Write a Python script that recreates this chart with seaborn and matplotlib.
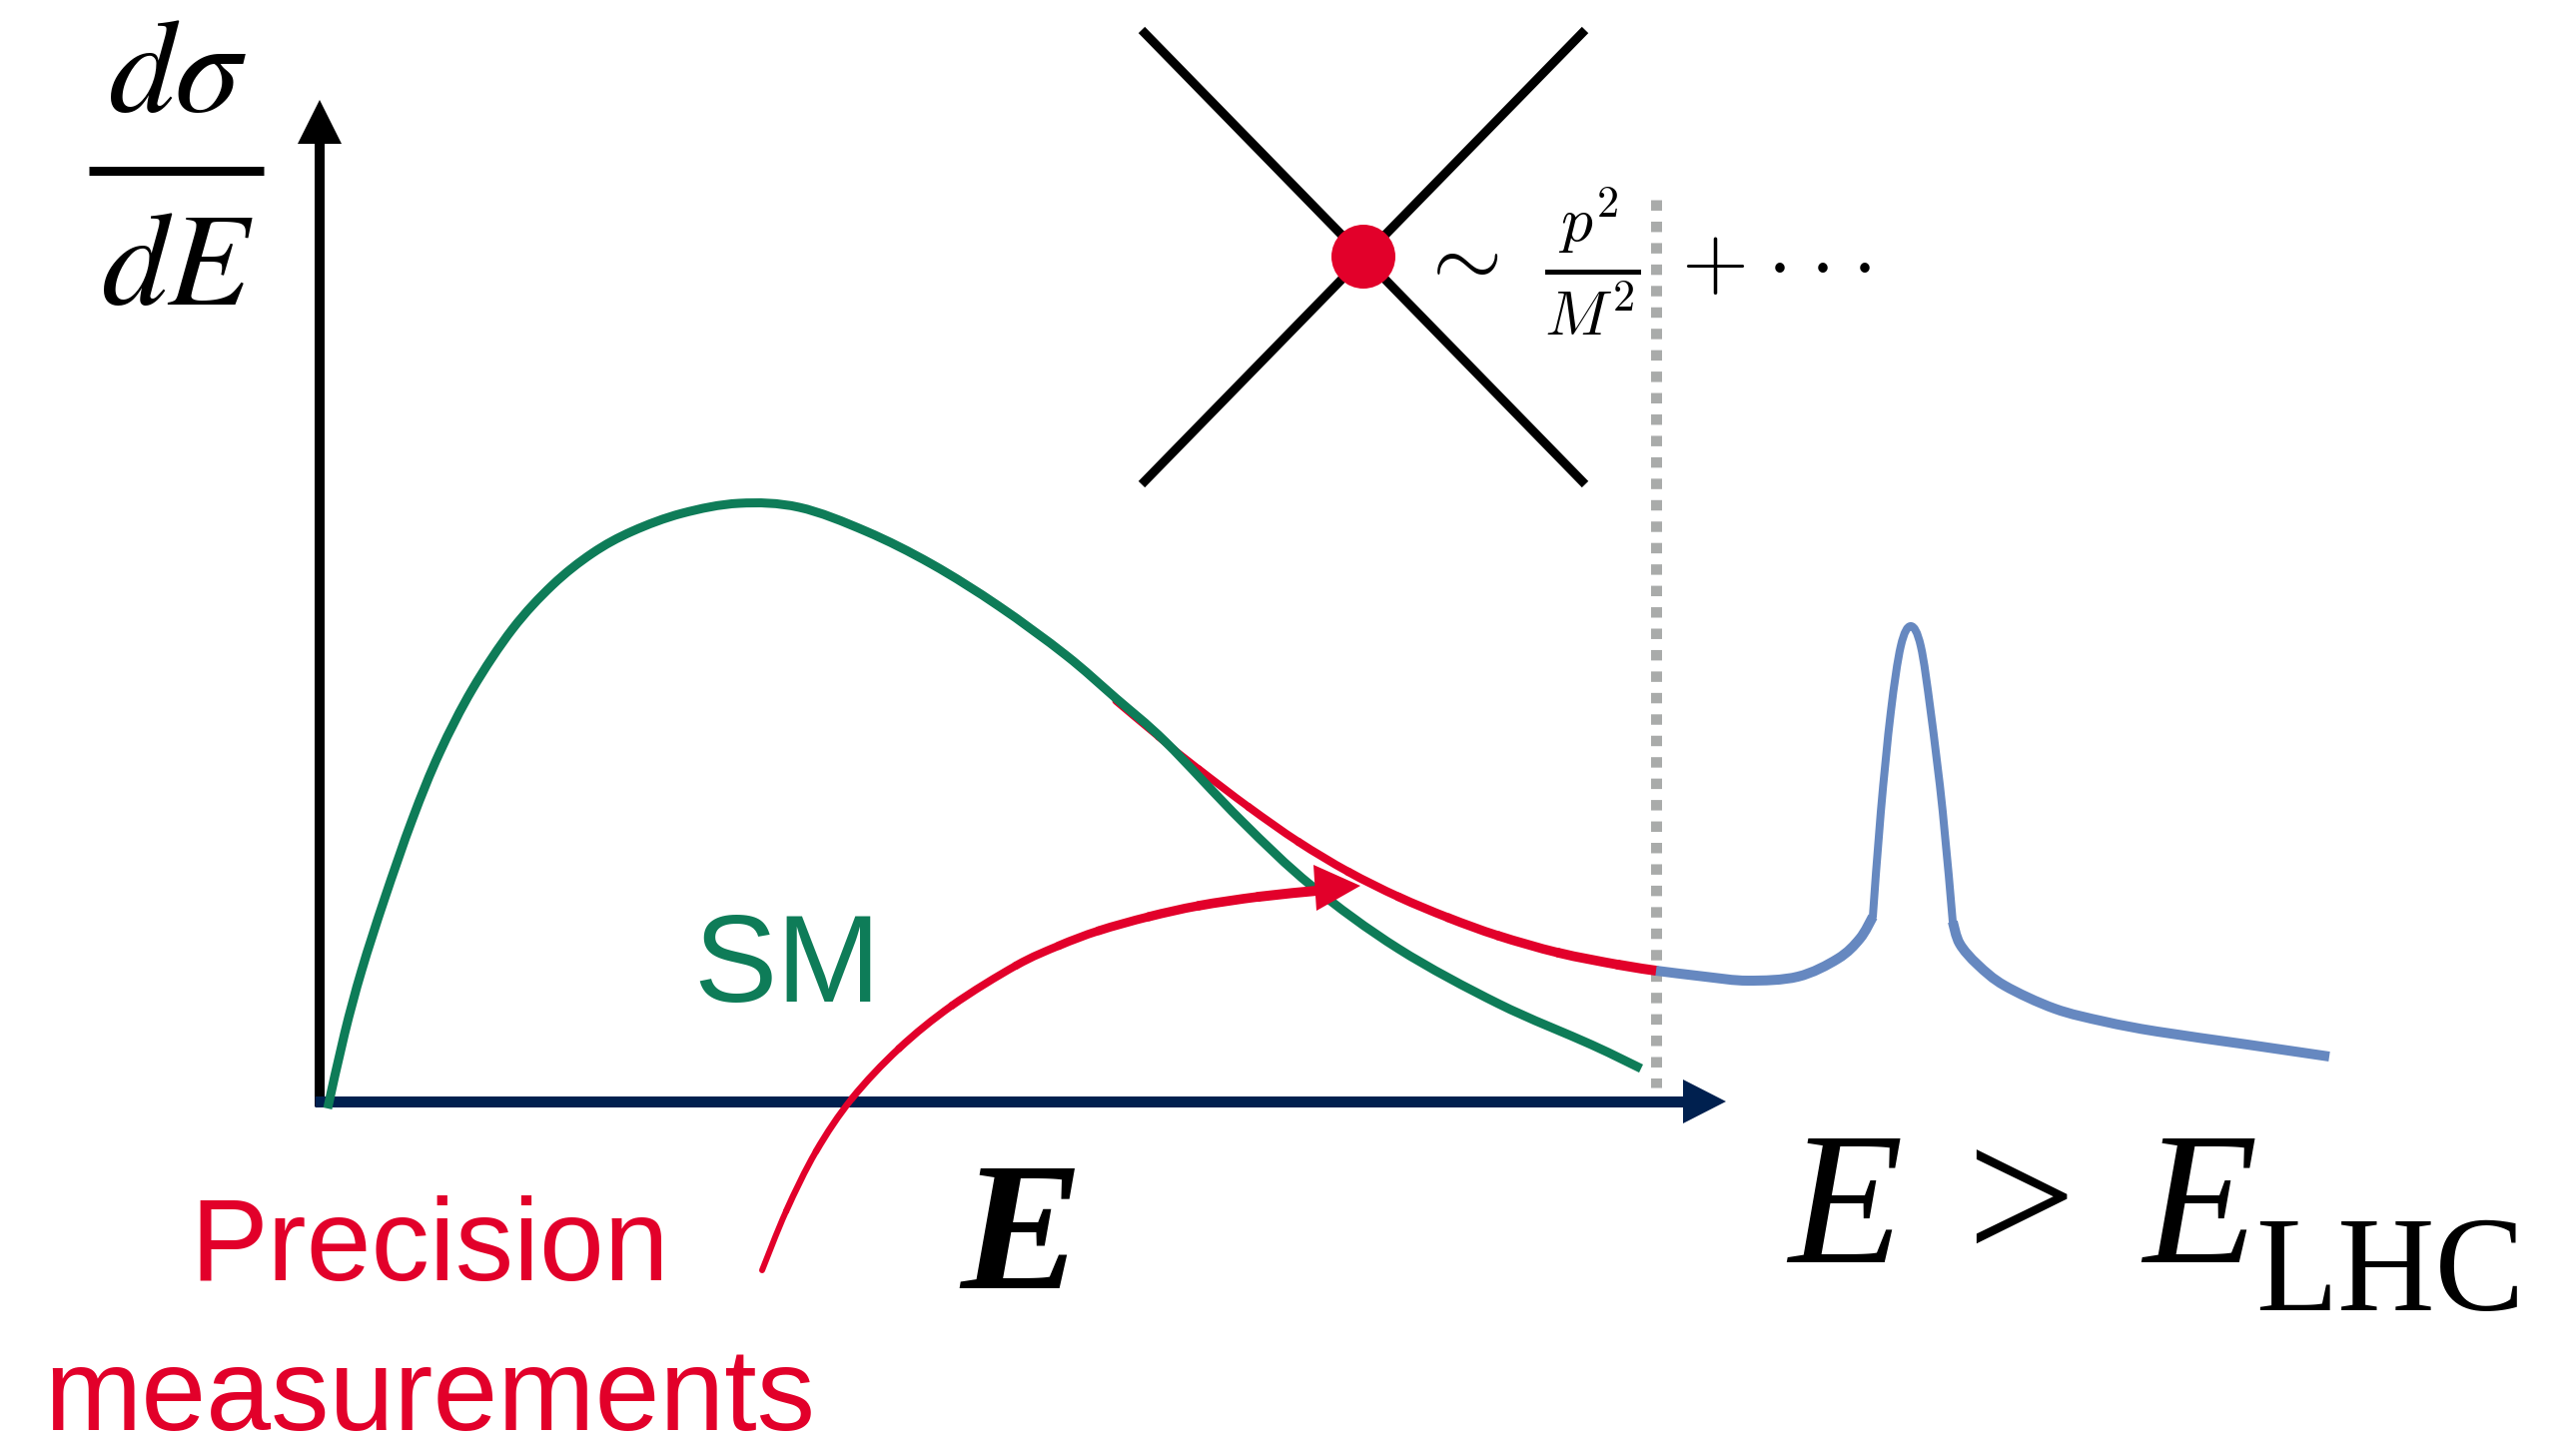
import numpy as np
import pandas as pd
import matplotlib
matplotlib.use("Agg")
import matplotlib.pyplot as plt
import seaborn as sns
from matplotlib.path import Path
from matplotlib.patches import Circle, Polygon, PathPatch

# ---------------- data (picture pixel coordinates, y downwards) ----------------
sm_x = [328, 345, 362, 385, 413, 440, 473, 513, 553, 593, 633, 683, 740, 800, 867,
        933, 1000, 1067, 1117, 1167, 1243, 1313, 1400, 1500, 1593, 1643]
sm_y = [1110, 1035, 972, 900, 820, 754, 690, 630, 586, 554, 532, 514, 504, 508, 532,
        565, 607, 656, 699, 743, 822, 887, 950, 1005, 1046, 1070]

bsm_x = [1117, 1160, 1200, 1250, 1300, 1350, 1400, 1450, 1500, 1560, 1620, 1658]
bsm_y = [702, 738, 770, 808, 843, 873, 898, 919, 937, 954, 966, 972]

res_left_x = [1658, 1707, 1750, 1800, 1840, 1862, 1875]
res_left_y = [972, 978, 982, 978, 960, 940, 918]
res_peak_x = [1875, 1883, 1893, 1903, 1913, 1923, 1933, 1945, 1955]
res_peak_y = [918, 813, 713, 647, 627, 647, 713, 813, 923]
res_right_x = [1955, 1962, 1980, 2007, 2057, 2107, 2160, 2250, 2332]
res_right_y = [923, 945, 966, 987, 1010, 1023, 1033, 1046, 1058]

prec_x = [763, 787, 817, 853, 900, 953, 1017, 1060, 1100, 1150, 1200, 1260, 1318]
prec_y = [1272, 1213, 1153, 1100, 1050, 1007, 967, 947, 932, 918, 907, 898, 892]

vertex_a_x = [1143, 1587]
vertex_a_y = [30, 485]
vertex_b_x = [1143, 1587]
vertex_b_y = [485, 30]

labels = {
    "ylabel_num": r"$d\sigma$",
    "ylabel_den": r"$dE$",
    "sm": "SM",
    "prec1": "Precision",
    "prec2": "measurements",
    "e": "E",
    "op": r"$\sim\ \frac{p^2}{M^2}$",
    "plus": r"$+$",
    "dot": r"$\cdot$",
}

# ---------------- colours ----------------
GREEN = "#0E7C58"
RED = "#E2002A"
BLUE = "#6688C0"
NAVY = "#00204F"
GREY = "#A9ABAA"

W, H = 2579, 1447
sns.set_theme(style="white")
plt.rcParams["font.family"] = ["Liberation Sans", "DejaVu Sans"]

fig = plt.figure(figsize=(W / 100, H / 100), dpi=100)
ax = fig.add_axes([0, 0, 1, 1])
ax.set_xlim(0, W)
ax.set_ylim(H, 0)
ax.axis("off")

PT = 0.72  # points per pixel at dpi 100


def bezier_segments(xs, ys):
    """Smooth curve through the read points (Catmull-Rom as cubic Bezier)."""
    P = np.column_stack([xs, ys]).astype(float)
    n = len(P)
    segs = []
    for i in range(n - 1):
        p0 = P[i - 1] if i > 0 else P[i]
        p1, p2 = P[i], P[i + 1]
        p3 = P[i + 2] if i + 2 < n else P[i + 1]
        segs.append([p1, p1 + (p2 - p0) / 6, p2 - (p3 - p1) / 6, p2])
    return segs


def draw_curve(xs, ys, color, w0, w1=None, z=3, cap="butt"):
    segs = bezier_segments(xs, ys)
    if w1 is None:
        verts = [segs[0][0]]
        codes = [Path.MOVETO]
        for s in segs:
            verts += s[1:]
            codes += [Path.CURVE4] * 3
        ax.add_patch(PathPatch(Path(verts, codes), fill=False, edgecolor=color,
                               lw=w0 * PT, capstyle=cap, joinstyle="round", zorder=z))
    else:
        widths = np.linspace(w0, w1, len(segs))
        for s, w in zip(segs, widths):
            ax.add_patch(PathPatch(Path(s, [Path.MOVETO] + [Path.CURVE4] * 3),
                                   fill=False, edgecolor=color, lw=w * PT,
                                   capstyle="round", joinstyle="round", zorder=z))


# ---------------- axes arrows ----------------
ax.plot([320, 320], [1108, 140], color="black", lw=10 * PT, solid_capstyle="butt")
ax.add_patch(Polygon([[298, 144], [342, 144], [320, 100]], closed=True, color="black", lw=0))
ax.plot([315, 1690], [1103, 1103], color=NAVY, lw=11 * PT, solid_capstyle="butt")
ax.add_patch(Polygon([[1685, 1081], [1685, 1125], [1728, 1103]], closed=True, color=NAVY, lw=0))

# dotted separator
ax.plot([1658, 1658], [200, 1089], color=GREY, lw=11 * PT,
        linestyle=(0, (0.95, 1.0)), dash_capstyle="butt")

# ---------------- curves ----------------
draw_curve(bsm_x, bsm_y, RED, 7, 10, z=2)          # BSM deviation, under the SM curve
draw_curve(sm_x, sm_y, GREEN, 9, z=3)              # SM distribution
draw_curve(res_left_x, res_left_y, BLUE, 10, z=3)  # new-physics resonance
draw_curve(res_peak_x, res_peak_y, BLUE, 8, z=3, cap="round")
draw_curve(res_right_x, res_right_y, BLUE, 10, z=3)

# precision measurement arrow
draw_curve(prec_x, prec_y, RED, 6, 10, z=4)
ax.add_patch(Polygon([[1315, 866], [1318, 912], [1362, 887]], closed=True,
                     color=RED, lw=0, zorder=5))

# ---------------- contact interaction diagram ----------------
for vx, vy in [(vertex_a_x, vertex_a_y), (vertex_b_x, vertex_b_y)]:
    sns.lineplot(data=pd.DataFrame({"x": vx, "y": vy}), x="x", y="y", sort=False,
                 estimator=None, ax=ax, color="black", lw=9 * PT, zorder=3,
                 solid_capstyle="butt")
ax.add_patch(Circle((1365, 257), 32, color=RED, zorder=4, lw=0))
ax.text(1418, 288, labels["op"], fontsize=65, math_fontfamily="cm",
        ha="left", va="baseline", color="black")
ax.text(1715, 288, labels["plus"], fontsize=62, math_fontfamily="cm",
        ha="center", va="baseline", color="black")
for dx in [1778, 1821, 1863]:
    ax.text(dx, 288, labels["dot"], fontsize=62, math_fontfamily="cm",
            ha="center", va="baseline", color="black")

ax.set_xlabel("")
ax.set_ylabel("")
ax.set_xlim(0, W)
ax.set_ylim(H, 0)
ax.axis("off")

# ---------------- labels ----------------
ax.text(178, 112, labels["ylabel_num"], fontsize=96, math_fontfamily="stix",
        ha="center", va="baseline", color="black")
ax.plot([89, 264], [171, 171], color="black", lw=9 * PT, solid_capstyle="butt")
ax.text(178, 305, labels["ylabel_den"], fontsize=96, math_fontfamily="stix",
        ha="center", va="baseline", color="black")

ax.text(694, 1003, labels["sm"], fontsize=90, color=GREEN, ha="left", va="baseline",
        family=["Liberation Sans", "DejaVu Sans"])

ax.text(430, 1282, labels["prec1"], fontsize=84, color=RED, ha="center", va="baseline",
        family=["Liberation Sans", "DejaVu Sans"])
ax.text(430, 1432, labels["prec2"], fontsize=84, color=RED, ha="center", va="baseline",
        family=["Liberation Sans", "DejaVu Sans"])

serif = ["Liberation Serif", "DejaVu Serif"]
ax.text(1022, 1290, labels["e"], fontsize=132, style="italic", weight="bold",
        ha="center", va="baseline", family=serif, color="black")

ax.text(1790, 1264, "E", fontsize=135, style="italic", ha="left", va="baseline",
        family=serif, color="black")
ax.text(1968, 1264, ">", fontsize=140, ha="left", va="baseline",
        family=serif, color="black")
ax.text(2145, 1264, "E", fontsize=135, style="italic", ha="left", va="baseline",
        family=serif, color="black")
ax.text(2258, 1312, "LHC", fontsize=97, ha="left", va="baseline",
        family=serif, color="black")

fig.savefig("out.png", dpi=100, facecolor="white")
